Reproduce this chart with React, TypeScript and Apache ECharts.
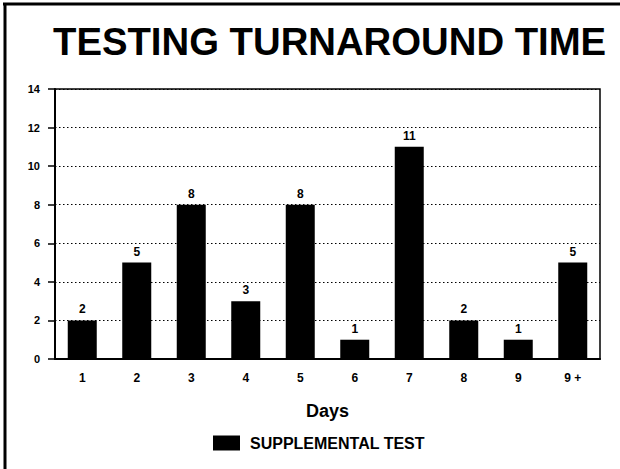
import React, { useEffect, useRef } from "react";
import * as echarts from "echarts";

const categories = ["1", "2", "3", "4", "5", "6", "7", "8", "9", "9 +"];
const supplementalTest = [2, 5, 8, 3, 8, 1, 11, 2, 1, 5];
const yTicks = { min: 0, max: 14, interval: 2 };

const FONT = "'Liberation Sans', Arial, Helvetica, sans-serif";

export default function App() {
  const ref = useRef<HTMLDivElement>(null);
  useEffect(() => {
    if (!ref.current) return;
    const chart = echarts.init(ref.current, undefined, { renderer: "svg" });
    chart.setOption({
      animation: false,
      backgroundColor: "#fff",
      title: {
        text: "TESTING TURNAROUND TIME",
        left: 48,
        top: 17,
        textStyle: { fontFamily: FONT, fontSize: 38.3, fontWeight: "bold", color: "#000" },
      },
      legend: {
        left: 208,
        top: 430,
        itemWidth: 27,
        itemHeight: 15,
        itemGap: 10,
        icon: "rect",
        textStyle: {
          fontFamily: FONT,
          fontSize: 16,
          fontWeight: "bold",
          color: "#000",
          padding: [0, 0, 0, 5],
        },
        data: ["SUPPLEMENTAL TEST"],
      },
      grid: {
        left: 55,
        right: 20,
        top: 89,
        bottom: 110,
        show: true,
        borderColor: "#000",
        borderWidth: 1.5,
        backgroundColor: "transparent",
        containLabel: false,
      },
      xAxis: {
        type: "category",
        data: categories,
        name: "Days",
        nameLocation: "middle",
        nameGap: 43,
        nameTextStyle: { fontFamily: FONT, fontSize: 18, fontWeight: "bold", color: "#000" },
        axisLine: { lineStyle: { color: "#000", width: 2 } },
        axisTick: { alignWithLabel: true, length: 6, lineStyle: { color: "#000", width: 1.5 } },
        axisLabel: { fontFamily: FONT, fontSize: 12, fontWeight: "bold", color: "#000", margin: 13 },
        splitLine: { show: false },
      },
      yAxis: {
        type: "value",
        min: yTicks.min,
        max: yTicks.max,
        interval: yTicks.interval,
        axisLine: { show: true, lineStyle: { color: "#000", width: 2 } },
        axisTick: { show: true, length: 7, lineStyle: { color: "#000", width: 1.5 } },
        axisLabel: { fontFamily: FONT, fontSize: 11, fontWeight: "bold", color: "#000", margin: 15 },
        splitLine: { show: true, lineStyle: { color: "#000", width: 1, type: [1.5, 2.5] } },
      },
      series: [
        {
          name: "SUPPLEMENTAL TEST",
          type: "bar",
          data: supplementalTest,
          barWidth: 29,
          itemStyle: { color: "#000" },
          label: {
            show: true,
            position: "top",
            distance: 5,
            fontFamily: FONT,
            fontSize: 12,
            fontWeight: "bold",
            color: "#000",
          },
        },
      ],
      graphic: [
        { type: "line", shape: { x1: 5, y1: 3, x2: 5, y2: 469 }, style: { stroke: "#000", lineWidth: 3 } },
        { type: "line", shape: { x1: 3, y1: 4, x2: 620, y2: 4 }, style: { stroke: "#000", lineWidth: 3 } },
      ],
    });
    return () => chart.dispose();
  }, []);
  return (
    <div
      ref={ref}
      style={{ position: "fixed", left: 0, top: 0, width: 620, height: 469, background: "#fff" }}
    />
  );
}
